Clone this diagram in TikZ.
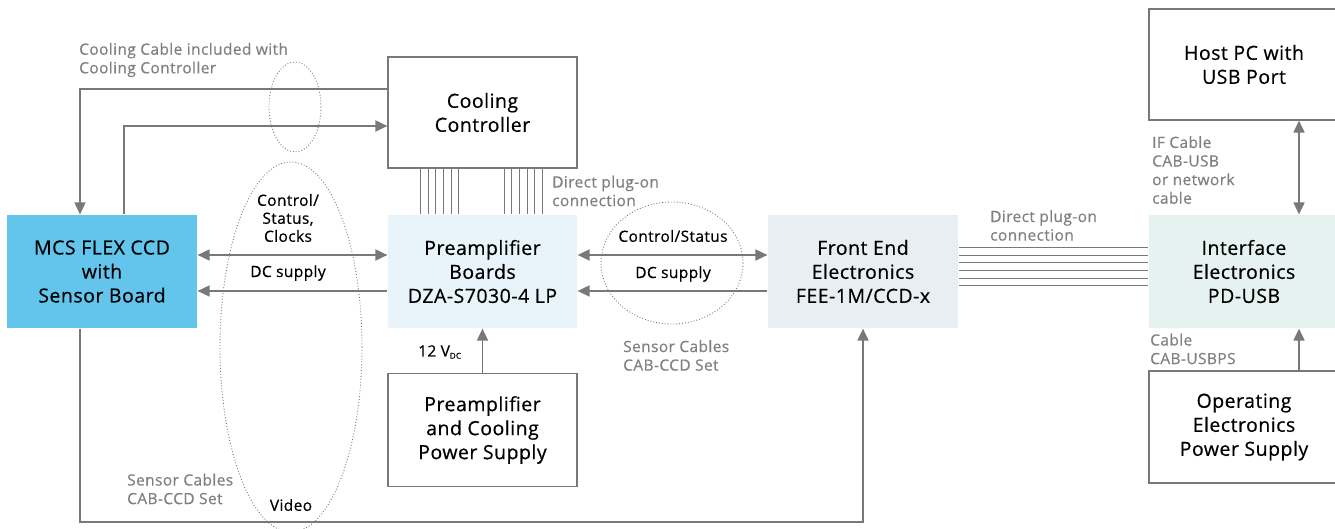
\documentclass[tikz,border=0pt]{standalone}
\usepackage{fontspec}
\setmainfont{Open Sans}[LetterSpace=2.5, FakeBold=0.5]
\usetikzlibrary{arrows.meta}

\definecolor{linegray}{RGB}{120,120,120}
\definecolor{textgray}{RGB}{128,128,128}
\definecolor{ccdblue}{RGB}{99,197,236}
\definecolor{preblue}{RGB}{232,244,250}
\definecolor{feegray}{RGB}{232,238,242}
\definecolor{ifgreen}{RGB}{229,242,240}

\begin{document}
\begin{tikzpicture}[x=1pt, y=-1pt]
      \tikzstyle{block}=[draw=linegray, line width=1.2pt, minimum width=190pt, minimum height=113pt,
        align=center, inner sep=0pt, font=\fontsize{19.5}{24}\selectfont]
      \tikzstyle{filled}=[block, draw=none]
      \tikzstyle{wire}=[draw=linegray, line width=1.8pt]
      \tikzstyle{tip}=[wire, -{Triangle[length=12pt, width=11pt]}]
      \tikzstyle{twotip}=[wire, {Triangle[length=12pt, width=11pt]}-{Triangle[length=12pt, width=11pt]}]
      \tikzstyle{bus}=[draw=linegray, line width=1pt]
      \tikzstyle{note}=[align=left, inner sep=0pt, text=textgray, font=\fontsize{15.5}{18.6}\selectfont]
      \tikzstyle{label}=[align=center, inner sep=0pt, font=\fontsize{15.5}{18}\selectfont]
      \tikzstyle{group}=[draw=linegray, line width=0.9pt, dotted]

      \useasboundingbox (0,0) rectangle (1335,529);

      % boxes
      \path (102, 271.5) node[filled, fill=ccdblue] (mcs) {MCS FLEX CCD\\with\\Sensor Board};
      \path (482.5, 112.5) node[block, minimum width=189pt, minimum height=111pt] (cc) {Cooling\\Controller};
      \path (482.5, 271.5) node[filled, fill=preblue, minimum width=189pt] (pre) {Preamplifier\\Boards\\DZA-S7030-4 LP};
      \path (482.5, 430) node[block, minimum width=189pt] (ps) {Preamplifier\\and Cooling\\Power Supply};
      \path (863, 271.5) node[filled, fill=feegray] (fee) {Front End\\Electronics\\FEE-1M/CCD-x};
      \path (1244, 271.5) node[filled, fill=ifgreen] (ifc) {Interface\\Electronics\\PD-USB};
      \path (1244, 64.5) node[block, minimum height=111pt] (host) {Host PC with\\USB Port};
      \path (1244, 427) node[block, minimum height=112pt] (ops) {Operating\\Electronics\\Power Supply};

      % cable groups
      \draw[group] (295, 107) ellipse (26 and 45);
      \draw[group] (291, 347) ellipse (71 and 185);
      \draw[group] (672, 263) ellipse (71 and 61);

      % cooling cables
      \draw[tip] ([yshift=23.5pt]cc.west) -| ([xshift=-22pt]mcs.north);
      \draw[tip] ([xshift=22pt]mcs.north) |- ([yshift=-13.5pt]cc.west);

      % direct plug-on
      \foreach \i in {0, ..., 5}
      {
        \draw[bus] ([xshift=-61.8pt+\i*7.6pt]cc.south) -- ([xshift=-61.8pt+\i*7.6pt]pre.north);
        \draw[bus] ([xshift=21.8pt+\i*7.6pt]cc.south) -- ([xshift=21.8pt+\i*7.6pt]pre.north);
        \draw[bus] ([yshift=23.5pt-\i*7.5pt]fee.east) -- ([yshift=23.5pt-\i*7.5pt]ifc.west);
      }

      \draw[twotip] ([yshift=16.5pt]mcs.east) -- ([yshift=16.5pt]pre.west);
      \draw[twotip] ([yshift=16.5pt]pre.east) -- ([yshift=16.5pt]fee.west);
      \draw[tip] ([yshift=-19.5pt]pre.west) -- ([yshift=-19.5pt]mcs.east);
      \draw[tip] ([yshift=-19.5pt]fee.west) -- ([yshift=-19.5pt]pre.east);
      \draw[tip] (ps.north) -- (pre.south);
      \draw[tip] ([xshift=-22pt]mcs.south) -- ++(0,193) -| (fee.south);
      \draw[twotip] ([xshift=55pt]host.south) -- ([xshift=55pt]ifc.north);
      \draw[tip] ([xshift=55pt]ops.north) -- ([xshift=55pt]ifc.south);

      % texts
      \path (79, 60) node[note, anchor=west] (t1) {Cooling Cable included with\\Cooling Controller};
      \path (288, 218) node[label] (t2) {Control/\\Status,\\Clocks};
      \path (288, 273) node[label] (t3) {DC supply};
      \path (673, 236) node[label] (t4) {Control/Status};
      \path (673, 274) node[label] (t5) {DC supply};
      \path (552, 191) node[note, anchor=west] (t6) {Direct plug-on\\connection};
      \path (623, 355.5) node[note, anchor=west] (t7) {Sensor Cables\\CAB-CCD Set};
      \path (418, 352) node[label, anchor=west] (t8) {12 V\textsubscript{\fontsize{8}{8}\selectfont DC}};
      \path (127, 489) node[note, anchor=west] (t9) {Sensor Cables\\CAB-CCD Set};
      \path (291, 505) node[label] (t10) {Video};
      \path (990, 225.5) node[note, anchor=west] (t11) {Direct plug-on\\connection};
      \path (1152, 170) node[note, anchor=west] (t12) {IF Cable\\CAB-USB\\or network\\cable};
      \path (1150, 349) node[note, anchor=west] (t13) {Cable\\CAB-USBPS};
    \end{tikzpicture}
\end{document}
